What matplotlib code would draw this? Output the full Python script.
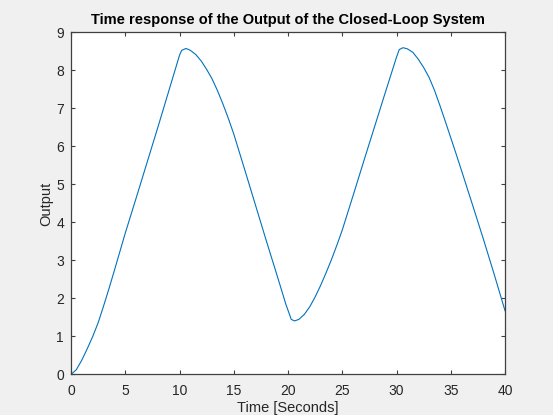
import matplotlib
matplotlib.use("Agg")
import matplotlib.pyplot as plt

# values
time_s = [0, 0.5, 1, 1.5, 2, 2.5, 3, 3.5, 4, 4.5, 5, 6, 7, 8, 9, 10, 10.2, 10.6,
          11, 11.5, 12, 12.5, 13, 13.5, 14, 14.5, 15, 16, 17, 18, 19, 19.8, 20.3,
          20.6, 21, 21.5, 22, 22.5, 23, 23.5, 24, 24.5, 25, 26, 27, 28, 29, 30,
          30.25, 30.6, 31, 31.5, 32, 32.5, 33, 33.5, 34, 34.5, 35, 35.5, 36, 37,
          38, 39, 40]
output = [0, 0.13, 0.38, 0.68, 1.0, 1.36, 1.8, 2.26, 2.74, 3.23, 3.72, 4.64, 5.57,
          6.5, 7.45, 8.4, 8.53, 8.58, 8.53, 8.42, 8.25, 8.03, 7.78, 7.47, 7.12,
          6.74, 6.33, 5.4, 4.46, 3.52, 2.6, 1.85, 1.45, 1.41, 1.45, 1.58, 1.78,
          2.04, 2.34, 2.67, 3.02, 3.4, 3.8, 4.71, 5.63, 6.54, 7.45, 8.35, 8.55,
          8.6, 8.57, 8.48, 8.3, 8.08, 7.82, 7.48, 7.08, 6.66, 6.23, 5.8, 5.36,
          4.47, 3.57, 2.64, 1.68]

x_ticks = [0, 5, 10, 15, 20, 25, 30, 35, 40]
y_ticks = [0, 1, 2, 3, 4, 5, 6, 7, 8, 9]

plt.rcParams['font.family'] = ['Liberation Sans', 'DejaVu Sans']

fig = plt.figure(figsize=(5.53, 4.15), dpi=100, facecolor='#f0f0f0')
ax = fig.add_axes([0.1284, 0.0976, 0.7848, 0.8241])
ax.set_facecolor('white')

ax.plot(time_s, output, color='#0072BD', linewidth=0.8)

ax.set_xlim(0, 40)
ax.set_ylim(0, 9)
ax.set_xticks(x_ticks)
ax.set_yticks(y_ticks)

for side in ax.spines.values():
    side.set_color('#404040')
    side.set_linewidth(0.9)
ax.tick_params(direction='in', length=3, width=0.8, colors='#404040',
               labelcolor='#262626', labelsize=10, top=True, right=True)
ax.tick_params(axis='x', pad=7)
ax.tick_params(axis='y', pad=5)

ax.set_title('Time response of the Output of the Closed-Loop System',
             fontsize=10.5, fontweight='bold', pad=6)
ax.set_xlabel('Time [Seconds]', fontsize=10.5, labelpad=2, color='#262626')
ax.set_ylabel('Output', fontsize=10.5, labelpad=2, color='#262626')

fig.savefig('out.png', dpi=100, facecolor=fig.get_facecolor())
